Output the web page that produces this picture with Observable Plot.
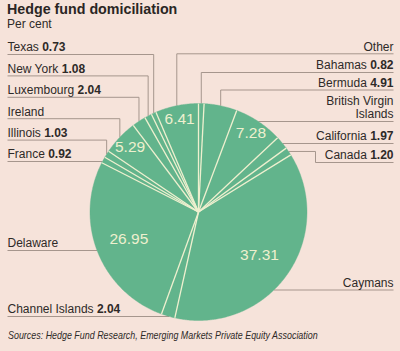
<!DOCTYPE html>
<html><head><meta charset="utf-8">
<script src="https://cdn.jsdelivr.net/npm/d3@7"></script>
<script src="https://cdn.jsdelivr.net/npm/@observablehq/plot@0.6"></script>
<style>
html,body{margin:0;padding:0;background:#f6e3da;width:400px;height:351px;overflow:hidden;position:relative;font-family:"Liberation Sans",Arial,sans-serif;color:#2e2a28}
#title{position:absolute;left:7px;top:0px;font-weight:bold;font-size:15.5px;line-height:17.5px;height:17.5px;white-space:nowrap;transform:scaleX(0.92);transform-origin:0 0;color:#2a2624}
#sub{position:absolute;left:7px;top:17.5px;font-size:12px;line-height:13.5px;white-space:nowrap}
#chart{position:absolute;left:0;top:31px;}
#src{position:absolute;left:8px;top:330.2px;font-style:italic;font-size:11px;line-height:11px;transform:scaleX(0.81);transform-origin:0 0;white-space:nowrap}
</style></head>
<body>
<div id="title">Hedge fund domiciliation</div>
<div id="sub">Per cent</div>
<div id="chart"></div>
<div id="src">Sources: Hedge Fund Research, Emerging Markets Private Equity Association</div>
<script>
// ---- data (clockwise from 12 o'clock) ----
const categories = ["Bahamas","Bermuda","British Virgin Islands","California","Canada","Caymans","Channel Islands","Delaware","France","Illinois","Ireland","Luxembourg","New York","Texas","Other"];
const shares = [0.82,4.91,7.28,1.97,1.20,37.31,2.04,26.95,0.92,1.03,5.29,2.04,1.08,0.73,6.41];
const labelTexts = ["Bahamas","Bermuda","British Virgin\nIslands","California","Canada","Caymans","Channel Islands","Delaware","France","Illinois","Ireland","Luxembourg","New York","Texas","Other"];

// ---- layout ----
const TOP = 31, H = 295, W = 400;
const cx = 198, cy = 211.5, R = 108.5;
const LEFT_X = 7, RIGHT_X = 393;
const green = "#62b48c", cream = "#eef0cf", ink = "#2e2a28", rule = "#9d8d85";
const labelLayout = {
  "Texas": {side:"left", y:54, leader:"v"},
  "New York": {side:"left", y:75.4, leader:"v"},
  "Luxembourg": {side:"left", y:96.8, leader:"v"},
  "Ireland": {side:"left", y:118.2, leader:"v"},
  "Illinois": {side:"left", y:139.6, leader:"v"},
  "France": {side:"left", y:161, leader:"h"},
  "Delaware": {side:"left", y:250, leader:"h"},
  "Channel Islands": {side:"left", y:316, leader:"h"},
  "Other": {side:"right", y:53.3, leader:"v"},
  "Bahamas": {side:"right", y:72, leader:"v"},
  "Bermuda": {side:"right", y:89.5, leader:"v"},
  "British Virgin Islands": {side:"right", y:121, leader:"h"},
  "California": {side:"right", y:143, leader:"h"},
  "Canada": {side:"right", y:162, leader:"elbow", elbowX:315},
  "Caymans": {side:"right", y:289.5, leader:"h"}
};

const INSIDE_MIN = 5;
const fmt = v => v.toFixed(2);
const arcs = d3.pie().sort(null).value(d => d)(shares);
const pt = (a, r = R) => [cx + r * Math.sin(a), cy - r * Math.cos(a)];

// slice polygons
const slices = arcs.flatMap((a, i) => {
  const n = Math.max(2, Math.ceil((a.endAngle - a.startAngle) / 0.01));
  const pts = [{k: i, x: cx, y: cy}];
  for (let j = 0; j <= n; j++) {
    const t = a.startAngle + (a.endAngle - a.startAngle) * j / n;
    const [x, y] = pt(t);
    pts.push({k: i, x, y});
  }
  pts.push({k: i, x: cx, y: cy});
  return pts;
});
const seps = arcs.map(a => { const [x, y] = pt(a.startAngle); return {x, y}; });

// values inside the pie
const inside = arcs.map((a, i) => {
  const m = (a.startAngle + a.endAngle) / 2;
  const f = shares[i] >= 20 ? 0.69 : 0.87;
  const [x, y] = pt(m, R * f);
  return {x, y, text: fmt(shares[i]), v: shares[i]};
}).filter(d => d.v >= INSIDE_MIN);

// text measuring
const ctx = document.createElement("canvas").getContext("2d");
const measure = (s, bold) => { ctx.font = (bold ? "bold " : "") + "12px 'Liberation Sans', Arial, sans-serif"; return ctx.measureText(s).width; };

const labels = categories.map((c, i) => {
  const L = labelLayout[c];
  const a = arcs[i];
  const m = (a.startAngle + a.endAngle) / 2;
  const showVal = shares[i] < INSIDE_MIN;
  const val = showVal ? fmt(shares[i]) : "";
  const edgeX = L.side === "left" ? LEFT_X : RIGHT_X;
  let path;
  if (L.leader === "v") {
    const [xv, ye] = pt(m);
    path = [[edgeX, L.y], [xv, L.y], [xv, ye]];
  } else if (L.leader === "h") {
    const dx = Math.sqrt(Math.max(0, R * R - (L.y - cy) ** 2));
    path = [[edgeX, L.y], [L.side === "left" ? cx - dx : cx + dx, L.y]];
  } else {
    const [xe, ye] = pt(m);
    path = [[edgeX, L.y], [L.elbowX, L.y], [L.elbowX, ye], [xe, ye]];
  }
  let nameX, valX;
  if (L.side === "left") {
    nameX = LEFT_X;
    valX = LEFT_X + measure(labelTexts[i] + " ", false);
  } else {
    valX = RIGHT_X;
    nameX = showVal ? RIGHT_X - measure(val, true) - measure(" ", false) : RIGHT_X;
  }
  return {name: labelTexts[i], val, side: L.side, y: L.y - 3.2, nameX, valX, path, key: c};
});
const leaderPts = labels.flatMap(l => l.path.map(([x, y]) => ({k: l.key, x, y})));

const textCommon = {fontSize: 12, lineAnchor: "bottom", lineHeight: 1.1, fill: ink};
const chart = Plot.plot({
  width: W, height: H, margin: 0,
  x: {domain: [0, W], range: [0, W], axis: null},
  y: {domain: [TOP, TOP + H], range: [0, H], axis: null},
  style: {background: "transparent", fontFamily: "'Liberation Sans', Arial, sans-serif", overflow: "visible"},
  marks: [
    Plot.line(leaderPts, {x: "x", y: "y", z: "k", stroke: rule, strokeWidth: 0.9, strokeLinecap: "butt", strokeLinejoin: "miter"}),
    Plot.line(slices, {x: "x", y: "y", z: "k", fill: green, stroke: green, strokeWidth: 0.4}),
    Plot.link(seps, {x1: () => cx, y1: () => cy, x2: "x", y2: "y", stroke: cream, strokeWidth: 1.3}),
    Plot.text(inside, {x: "x", y: "y", text: "text", fill: cream, fontSize: 15.5, lineAnchor: "middle"}),
    Plot.text(labels.filter(l => l.side === "left"), {...textCommon, x: "nameX", y: "y", text: "name", textAnchor: "start"}),
    Plot.text(labels.filter(l => l.side === "left" && l.val), {...textCommon, x: "valX", y: "y", text: "val", textAnchor: "start", fontWeight: "bold"}),
    Plot.text(labels.filter(l => l.side === "right"), {...textCommon, x: "nameX", y: "y", text: "name", textAnchor: "end"}),
    Plot.text(labels.filter(l => l.side === "right" && l.val), {...textCommon, x: "valX", y: "y", text: "val", textAnchor: "end", fontWeight: "bold"})
  ]
});
document.getElementById("chart").appendChild(chart);
</script>
</body></html>
